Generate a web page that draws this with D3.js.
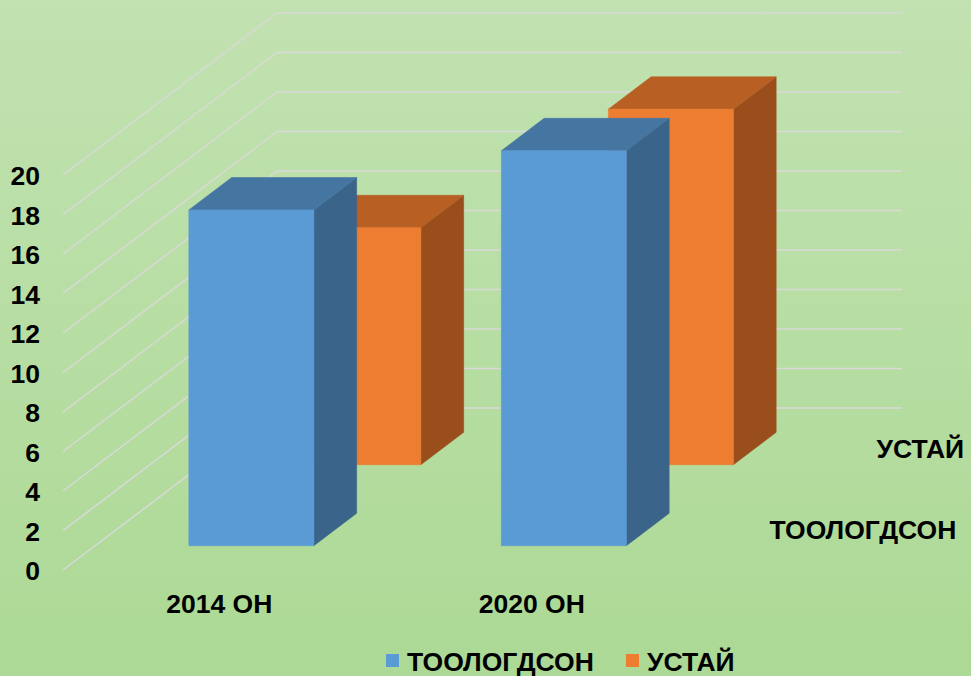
<!DOCTYPE html>
<html lang="mn">
<head>
<meta charset="UTF-8">
<title>3d columns</title>
<style>
  html, body { margin: 0; padding: 0; }
  body { width: 971px; height: 676px; overflow: hidden; }
  text { font-family: "Liberation Sans", Arial, sans-serif; font-weight: bold; fill: #000; }
</style>
</head>
<body>
<svg id="chart" width="971" height="676"></svg>
<script src="https://cdn.jsdelivr.net/npm/d3@7"></script>
<script>
// data
const categories = ["2014 ОН", "2020 ОН"];
const seriesNames = ["ТООЛОГДСОН", "УСТАЙ"];
const toologdson = [17, 20];
const ustai = [12, 18];
const yTicks = [0, 2, 4, 6, 8, 10, 12, 14, 16, 18, 20];

const seriesValues = [toologdson, ustai];
const faceColors = [
  { front: "#5b9bd5", top: "#4576a2", side: "#3a6489" },
  { front: "#ed7d31", top: "#b85f23", side: "#994e1c" }
];
const fontSize = "26.5px";

const svg = d3.select("#chart");

// background gradient
const defs = svg.append("defs");
const grad = defs.append("linearGradient").attr("id", "bg")
  .attr("x1", 0).attr("y1", 0).attr("x2", 0).attr("y2", 1);
grad.append("stop").attr("offset", "0%").attr("stop-color", "#c2e2b1");
grad.append("stop").attr("offset", "100%").attr("stop-color", "#acd995");
svg.append("rect").attr("width", 971).attr("height", 676).attr("fill", "url(#bg)");

// front plane scales
const x = d3.scaleBand().domain(categories).range([63, 688])
  .paddingInner(0.6).paddingOuter(0.3);
const y = d3.scaleLinear().domain([0, 20]).range([570, 175]);
// depth in px (vertical shift), series go from front to back
const depthTotal = 162;
const kx = 214 / 162;
const z = d3.scaleBand().domain(seriesNames).range([0, depthTotal])
  .paddingInner(0.6).paddingOuter(0.3);

const proj = (px, py, dz) => [px + dz * kx, py - dz];

// gridlines on side wall and back wall
const grid = svg.append("g");
yTicks.forEach(v => {
  const p0 = proj(x.range()[0], y(v), 0);
  const p1 = proj(x.range()[0], y(v), depthTotal);
  const p2 = proj(x.range()[1], y(v), depthTotal);
  grid.append("path")
    .attr("d", d3.line()([p0, p1, p2]))
    .attr("fill", "none")
    .attr("stroke", "#d9d9d9")
    .attr("stroke-width", 1.5);
});

// y axis labels
const yAxis = svg.append("g")
  .attr("transform", "translate(63,0)")
  .call(d3.axisLeft(y).tickValues(yTicks).tickSize(0).tickPadding(23));
yAxis.select(".domain").remove();
yAxis.selectAll("text")
  .attr("font-family", null).attr("font-size", null)
  .style("font-size", fontSize).attr("dy", "0.36em");

// bars, back row first
const bars = svg.append("g");
for (let s = seriesNames.length - 1; s >= 0; s--) {
  const z0 = z(seriesNames[s]);
  const z1 = z0 + z.bandwidth();
  const c = faceColors[s];
  categories.forEach((cat, i) => {
    const x0 = x(cat), x1 = x0 + x.bandwidth();
    const v = seriesValues[s][i];
    const yb = y(0), yt = y(v);
    const front = [proj(x0, yb, z0), proj(x1, yb, z0), proj(x1, yt, z0), proj(x0, yt, z0)];
    const top = [proj(x0, yt, z0), proj(x1, yt, z0), proj(x1, yt, z1), proj(x0, yt, z1)];
    const side = [proj(x1, yb, z0), proj(x1, yb, z1), proj(x1, yt, z1), proj(x1, yt, z0)];
    [[side, c.side], [top, c.top], [front, c.front]].forEach(([pts, col]) => {
      bars.append("path")
        .attr("d", d3.line()(pts) + "Z")
        .attr("fill", col)
        .attr("stroke", col)
        .attr("stroke-width", 0.6)
        .attr("stroke-linejoin", "round");
    });
  });
}

// category labels
svg.append("g").selectAll("text").data(categories).join("text")
  .attr("x", d => x(d) + x.bandwidth() / 2)
  .attr("y", 603)
  .attr("dy", "0.36em")
  .attr("text-anchor", "middle")
  .style("font-size", fontSize)
  .text(d => d);

// depth axis labels on the right
svg.append("g").selectAll("text").data(seriesNames).join("text")
  .attr("x", d => proj(x.range()[1], y(0), z(d) + z.bandwidth() / 2)[0] + 28)
  .attr("y", d => proj(x.range()[1], y(0), z(d) + z.bandwidth() / 2)[1])
  .attr("dy", "0.36em")
  .style("font-size", fontSize)
  .text(d => d);

// legend
const legend = svg.append("g");
const legendX = [386, 626];
seriesNames.forEach((name, i) => {
  legend.append("rect")
    .attr("x", legendX[i]).attr("y", 654)
    .attr("width", 13).attr("height", 13)
    .attr("fill", faceColors[i].front);
  legend.append("text")
    .attr("x", legendX[i] + 21).attr("y", 661)
    .attr("dy", "0.36em")
    .style("font-size", fontSize)
    .text(name);
});
</script>
</body>
</html>
